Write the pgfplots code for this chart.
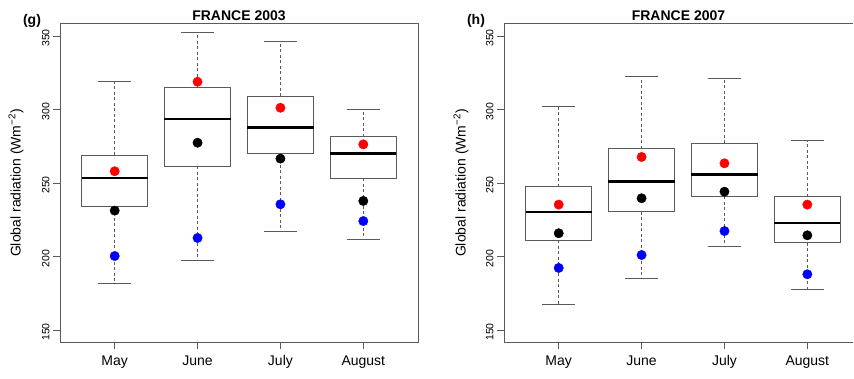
\documentclass[border=0pt]{standalone}
\usepackage{pgfplots}
\pgfplotsset{compat=1.18}
\usepackage{fontspec}
\setmainfont{Liberation Sans}

\definecolor{framegray}{RGB}{90,90,90}
\definecolor{ptred}{RGB}{255,0,0}
\definecolor{ptblue}{RGB}{0,0,255}

\pgfplotsset{
  panel/.style={
    scale only axis, height=318pt,
    xmin=0.34, ymin=141.8, ymax=358.2,
    xtick={1,2,3,4}, xticklabels={May,June,July,August},
    ytick={150,200,250,300,350},
    tick align=outside, major tick length=7pt,
    tick style={framegray, line width=0.8pt},
    axis line style={framegray, line width=1pt},
    unbounded coords=jump,
    /pgf/number format/assume math mode=true,
    yticklabel style={rotate=90, anchor=south, xshift=-2pt, font=\fontsize{10.5}{12}\selectfont},
    xticklabel style={yshift=-3pt, font=\fontsize{14}{16}\selectfont},
    title style={font=\bfseries\fontsize{14}{16}\selectfont,
      at={(axis description cs:0.5,1)}, anchor=base, yshift=-3pt},
    ylabel={Global radiation (Wm\textsuperscript{−2})},
    ylabel style={font=\fontsize{14}{16}\selectfont,
      at={(axis description cs:-0.123,0.5)}, anchor=center},
  },
  boxline/.style={framegray, line width=1pt, line cap=rect, mark=none},
  capline/.style={framegray, line width=1pt, mark=none},
  whisk/.style={framegray, line width=0.8pt, dash pattern=on 3pt off 2.5pt, mark=none},
  medline/.style={black, line width=2.4pt, mark=none},
  dot/.style={only marks, mark=*, mark size=4.7pt, mark options={draw=#1, fill=#1}},
}

\begin{document}
\begin{tikzpicture}
% page frame
\path (0pt,0pt) rectangle (854pt,378pt);

% ---------------- France 2003 ----------------
% box stats per month: lower whisker, Q1, median, Q3, upper whisker
% May 181.5 233.7 253.2 269.0 318.9 | June 197.0 261.3 293.5 314.9 352.3
% July 217.3 270.0 287.9 309.0 346.1 | August 211.7 253.2 270.0 281.5 299.7
\begin{axis}[panel, name=left, at={(60pt,36pt)}, anchor=south west,
  width=358pt, xmax=4.66, tick pos=left, title={FRANCE 2003}]
  % whiskers
  \addplot[whisk] coordinates {
    (1,269.0) (1,318.9) (nan,nan) (1,233.7) (1,181.5) (nan,nan)
    (2,314.9) (2,352.3) (nan,nan) (2,261.3) (2,197.0) (nan,nan)
    (3,309.0) (3,346.1) (nan,nan) (3,270.0) (3,217.3) (nan,nan)
    (4,281.5) (4,299.7) (nan,nan) (4,253.2) (4,211.7)};
  % whisker caps
  \addplot[capline] coordinates {
    (0.8,318.9) (1.2,318.9) (nan,nan) (0.8,181.5) (1.2,181.5) (nan,nan)
    (1.8,352.3) (2.2,352.3) (nan,nan) (1.8,197.0) (2.2,197.0) (nan,nan)
    (2.8,346.1) (3.2,346.1) (nan,nan) (2.8,217.3) (3.2,217.3) (nan,nan)
    (3.8,299.7) (4.2,299.7) (nan,nan) (3.8,211.7) (4.2,211.7)};
  % boxes (Q1 to Q3)
  \addplot[boxline] coordinates {
    (0.6,233.7) (1.4,233.7) (1.4,269.0) (0.6,269.0) (0.6,233.7) (nan,nan)
    (1.6,261.3) (2.4,261.3) (2.4,314.9) (1.6,314.9) (1.6,261.3) (nan,nan)
    (2.6,270.0) (3.4,270.0) (3.4,309.0) (2.6,309.0) (2.6,270.0) (nan,nan)
    (3.6,253.2) (4.4,253.2) (4.4,281.5) (3.6,281.5) (3.6,253.2)};
  % medians
  \addplot[medline] coordinates {
    (0.6,253.2) (1.4,253.2) (nan,nan) (1.6,293.5) (2.4,293.5) (nan,nan)
    (2.6,287.9) (3.4,287.9) (nan,nan) (3.6,270.0) (4.4,270.0)};
  \addplot[dot=ptred]  coordinates {(1,258.0) (2,318.9) (3,301.2) (4,276.3)};
  \addplot[dot=black]  coordinates {(1,231.2) (2,277.4) (3,266.6) (4,237.8)};
  \addplot[dot=ptblue] coordinates {(1,200.3) (2,212.6) (3,235.5) (4,224.1)};
\end{axis}

% ---------------- France 2007 ----------------
% May 167.0 211.2 230.3 247.5 302.0 | June 185.1 230.3 250.9 273.4 322.8
% July 206.7 240.9 255.9 277.0 321.2 | August 177.4 209.4 222.8 240.7 279.0
\begin{axis}[panel, name=right, at={(504pt,36pt)}, anchor=south west,
  width=349pt, xmax=4.551,
  axis x line*=bottom, axis y line*=left, title={FRANCE 2007},
  extra description/.code={\draw[framegray, line width=1pt]
    (rel axis cs:0,1) -- (rel axis cs:1,1);}]
  \addplot[whisk] coordinates {
    (1,247.5) (1,302.0) (nan,nan) (1,211.2) (1,167.0) (nan,nan)
    (2,273.4) (2,322.8) (nan,nan) (2,230.3) (2,185.1) (nan,nan)
    (3,277.0) (3,321.2) (nan,nan) (3,240.9) (3,206.7) (nan,nan)
    (4,240.7) (4,279.0) (nan,nan) (4,209.4) (4,177.4)};
  \addplot[capline] coordinates {
    (0.8,302.0) (1.2,302.0) (nan,nan) (0.8,167.0) (1.2,167.0) (nan,nan)
    (1.8,322.8) (2.2,322.8) (nan,nan) (1.8,185.1) (2.2,185.1) (nan,nan)
    (2.8,321.2) (3.2,321.2) (nan,nan) (2.8,206.7) (3.2,206.7) (nan,nan)
    (3.8,279.0) (4.2,279.0) (nan,nan) (3.8,177.4) (4.2,177.4)};
  \addplot[boxline] coordinates {
    (0.6,211.2) (1.4,211.2) (1.4,247.5) (0.6,247.5) (0.6,211.2) (nan,nan)
    (1.6,230.3) (2.4,230.3) (2.4,273.4) (1.6,273.4) (1.6,230.3) (nan,nan)
    (2.6,240.9) (3.4,240.9) (3.4,277.0) (2.6,277.0) (2.6,240.9) (nan,nan)
    (3.6,209.4) (4.4,209.4) (4.4,240.7) (3.6,240.7) (3.6,209.4)};
  \addplot[medline] coordinates {
    (0.6,230.3) (1.4,230.3) (nan,nan) (1.6,250.9) (2.4,250.9) (nan,nan)
    (2.6,255.9) (3.4,255.9) (nan,nan) (3.6,222.8) (4.4,222.8)};
  \addplot[dot=ptred]  coordinates {(1,235.3) (2,267.7) (3,263.4) (4,235.3)};
  \addplot[dot=black]  coordinates {(1,215.8) (2,239.6) (3,244.1) (4,214.4)};
  \addplot[dot=ptblue] coordinates {(1,192.2) (2,201.0) (3,217.3) (4,187.9)};
\end{axis}

% panel tags
\node[font=\bfseries\fontsize{14}{16}\selectfont] at (32pt,357pt) {(g)};
\node[font=\bfseries\fontsize{14}{16}\selectfont] at (476pt,357pt) {(h)};
\end{tikzpicture}
\end{document}
